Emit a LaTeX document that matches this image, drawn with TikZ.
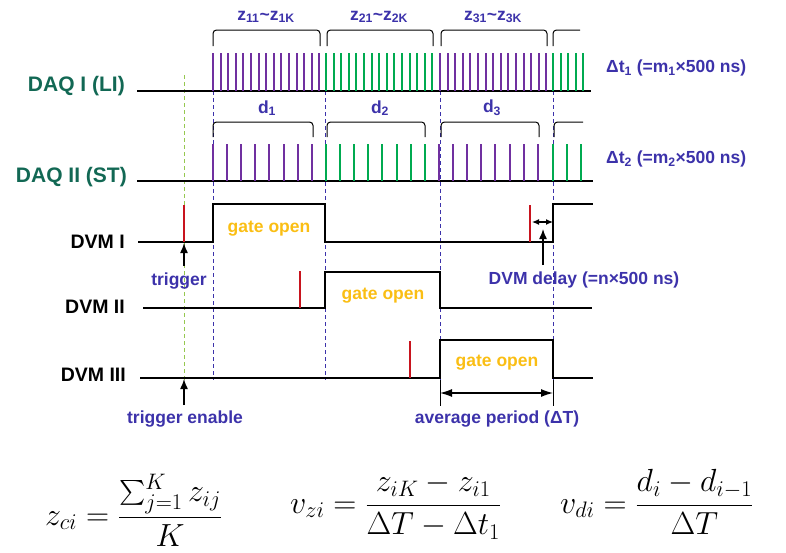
\documentclass[tikz,border=0pt]{standalone}
\usepackage{fix-cm}
\usepackage{amsmath}
\usepackage{fontspec}
\setsansfont{Liberation Sans}
\usetikzlibrary{arrows.meta}
\definecolor{daqteal}{RGB}{18,104,84}
\definecolor{lilac}{RGB}{112,48,160}
\definecolor{leaf}{RGB}{0,170,80}
\definecolor{indigo}{RGB}{60,50,170}
\definecolor{amber}{RGB}{250,190,20}
\definecolor{pulse}{RGB}{200,20,30}
\definecolor{lime}{RGB}{150,200,80}

\begin{document}
\begin{tikzpicture}[
  x=1pt, y=-1pt,
  sig/.style={draw=black, line width=1.2pt},
  tickA/.style={draw=lilac, line width=2pt},
  tickB/.style={tickA, draw=leaf},
  pul/.style={draw=pulse, line width=2.4pt},
  gridln/.style={draw=indigo, dash pattern=on 4pt off 3pt, line width=0.8pt},
  trg/.style={gridln, draw=lime},
  brk/.style={draw=black, line width=1pt, rounded corners=3.5pt},
  arr/.style={-{Latex[length=10pt,width=8pt]}, draw=black, line width=1.4pt},
  dbl/.style={{Latex[length=7pt,width=6pt]}-{Latex[length=7pt,width=6pt]}, draw=black, line width=1.2pt},
  wide/.style={dbl, {Latex[length=12pt,width=8pt]}-{Latex[length=12pt,width=8pt]}},
  chan/.style={font=\fontsize{21}{24}\selectfont\sffamily\bfseries, text=daqteal, anchor=east, inner sep=0pt},
  dvm/.style={chan, font=\fontsize{19.5}{22}\selectfont\sffamily\bfseries, text=black},
  note/.style={font=\fontsize{17.5}{20}\selectfont\sffamily\bfseries, text=indigo, inner sep=0pt},
  gate/.style={note, text=amber},
  eq/.style={font=\fontsize{32}{38}\selectfont, anchor=base west, inner sep=0pt}]

  \useasboundingbox (0,0) rectangle (786,552);

  \node[chan] (daq1) at (125, 86) {DAQ I (LI)};
  \node[chan] (daq2) at (127,177) {DAQ II (ST)};
  \node[dvm]  (dvm1) at (125,242) {DVM I};
  \node[dvm]  (dvm2) at (125,307) {DVM II};
  \node[dvm]  (dvm3) at (126,375) {DVM III};

  \foreach \x in {213,325,440,553}
    \draw[gridln] (\x,91) -- (\x,380);
  \draw[trg] (184,75) -- (184,380);

  \draw[sig] (137,91) -- (591,91);
  \draw[sig] (137,181) -- (593,181);
  \foreach \s/\n/\c in {213/14/tickA, 326/14/tickB, 440/14/tickA, 553/4/tickB}
    \foreach \k in {0,...,\n}
      \draw[\c] ({\s+7.6*\k},91) -- ({\s+7.6*\k},53);
  \foreach \s/\n/\c in {213/7/tickA, 326/7/tickB, 439/7/tickA, 553/2/tickB}
    \foreach \k in {0,...,\n}
      \draw[\c] ({\s+14.1*\k},181) -- ({\s+14.1*\k},144);

  \foreach \a/\b in {213/320, 327/433, 441/547}
    \draw[brk] (\a,46) -- (\a,30) -- (\b,30) -- (\b,46);
  \draw[brk] (553,46) -- (553,30) -- (580,30);
  \foreach \a/\b in {213/313, 327/425, 441/539}
    \draw[brk] (\a,137) -- (\a,122) -- (\b,122) -- (\b,137);
  \draw[brk] (554,137) -- (554,122) -- (583,122);

  \node[note] (z1) at (266,17) {z\textsubscript{11}\textasciitilde z\textsubscript{1K}};
  \node[note] (z2) at (379,17) {z\textsubscript{21}\textasciitilde z\textsubscript{2K}};
  \node[note] (z3) at (493,17) {z\textsubscript{31}\textasciitilde z\textsubscript{3K}};
  \node[note] (d1) at (267,108) {d\textsubscript{1}};
  \node[note] (d2) at (380,108) {d\textsubscript{2}};
  \node[note] (d3) at (492,108) {d\textsubscript{3}};
  \node[note, anchor=west] (dt1) at (606,68) {Δt\textsubscript{1} (=m\textsubscript{1}×500 ns)};
  \node[note, anchor=west] (dt2) at (606,159) {Δt\textsubscript{2} (=m\textsubscript{2}×500 ns)};

  \draw[sig] (138,242) -- (213,242) -- (213,204) -- (325,204) -- (325,242)
    -- (553,242) -- (553,204) -- (593,204);
  \draw[sig] (143,308) -- (325,308) -- (325,272) -- (440,272) -- (440,308) -- (592,308);
  \draw[sig] (140,378) -- (440,378) -- (440,340) -- (553,340) -- (553,378) -- (593,378);

  \foreach \x/\y in {184/242, 300/308, 410/378, 530/242}
    \draw[pul] (\x,\y) -- (\x,\y-37);

  \node[gate] (g1) at (269,229) {gate open};
  \node[gate] (g2) at (383,296) {gate open};
  \node[gate] (g3) at (497,363) {gate open};

  \node[note] (trig) at (179,281) {trigger};
  \node[note] (dly) at (584,280) {DVM delay (=n×500 ns)};
  \node[note] (ten) at (185,419) {trigger enable};
  \node[note] (avg) at (497,419) {average period (ΔT)};

  \coordinate (trigtail) at (184,266);
  \coordinate (trigtip) at (184,243);
  \coordinate (entail) at (184,405);
  \coordinate (entip) at (184,379);
  \coordinate (dlytail) at (543,265);
  \coordinate (dlytip) at (543,229);
  \coordinate (dlyl) at (532,222);
  \coordinate (dlyr) at (553,222);
  \coordinate (avgl) at (440,393);
  \coordinate (avgr) at (553,393);

  \draw[arr] (trigtail) -- (trigtip);
  \draw[arr] (entail) -- (entip);
  \draw[arr] (dlytail) -- (dlytip);
  \draw[dbl] (dlyl) -- (dlyr);
  \draw[sig, line width=1pt] (440,380) -- (440,406);
  \draw[sig, line width=1pt] (553,380) -- (553,406);
  \draw[wide] (avgl) -- (avgr);

  \node[eq] (zc) at (45,525) {$\displaystyle z_{ci}=\frac{\sum_{j=1}^{K} z_{ij}}{K}$};
  \node[eq] (vz) at (290,513) {$\displaystyle v_{zi}=\frac{z_{iK}-z_{i1}}{\Delta T-\Delta t_1}$};
  \node[eq] (vd) at (560,513) {$\displaystyle v_{di}=\frac{d_i-d_{i-1}}{\Delta T}$};
\end{tikzpicture}
\end{document}
